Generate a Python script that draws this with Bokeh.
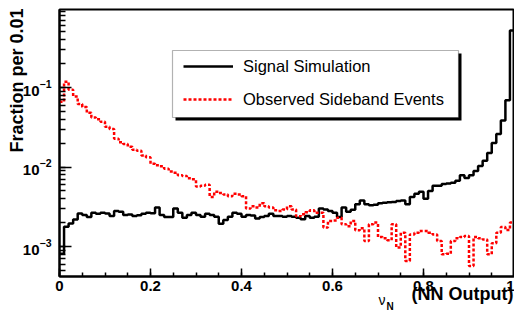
import numpy as np
from bokeh.plotting import figure
from bokeh.models import (FixedTicker, Range1d, Legend, LegendItem, Title,
                          BoxAnnotation)
from bokeh.embed import file_html
from bokeh.resources import INLINE

# ---- data (fraction per 0.01 bin, 100 bins from 0 to 1) ----
signal_simulation = [
    0.00081, 0.00178, 0.00195, 0.00219, 0.00261, 0.00249, 0.00235, 0.00266, 0.00259, 0.00266,
    0.00261, 0.00242, 0.00280, 0.00274, 0.00249, 0.00252, 0.00242, 0.00247, 0.00259, 0.00266,
    0.00262, 0.00310, 0.00250, 0.00235, 0.00235, 0.00300, 0.00266, 0.00230, 0.00249, 0.00266,
    0.00249, 0.00237, 0.00259, 0.00249, 0.00237, 0.00194, 0.00216, 0.00237, 0.00266, 0.00259,
    0.00237, 0.00249, 0.00245, 0.00226, 0.00235, 0.00242, 0.00259, 0.00242, 0.00242, 0.00237,
    0.00242, 0.00237, 0.00230, 0.00220, 0.00242, 0.00230, 0.00237, 0.00300, 0.00293, 0.00280,
    0.00266, 0.00235, 0.00310, 0.00274, 0.00290, 0.00340, 0.00380, 0.00340, 0.00330, 0.00335,
    0.00350, 0.00355, 0.00360, 0.00363, 0.00373, 0.00380, 0.00340, 0.00420, 0.00460, 0.00490,
    0.00400, 0.00500, 0.00580, 0.00580, 0.00610, 0.00620, 0.00635, 0.00670, 0.00790, 0.00730,
    0.00790, 0.00890, 0.01030, 0.01200, 0.01500, 0.02000, 0.02600, 0.03850, 0.06900, 0.52000,
]
observed_sideband = [
    0.06600, 0.11800, 0.09400, 0.07700, 0.06200, 0.05700, 0.04800, 0.04200, 0.04000, 0.03700,
    0.03200, 0.03000, 0.02270, 0.02050, 0.01950, 0.01800, 0.01650, 0.01600, 0.01400, 0.01330,
    0.01100, 0.01050, 0.01020, 0.00950, 0.00880, 0.00850, 0.00790, 0.00770, 0.00720, 0.00700,
    0.00570, 0.00580, 0.00600, 0.00420, 0.00490, 0.00470, 0.00450, 0.00430, 0.00460, 0.00450,
    0.00430, 0.00300, 0.00320, 0.00310, 0.00350, 0.00320, 0.00310, 0.00285, 0.00280, 0.00293,
    0.00320, 0.00293, 0.00240, 0.00254, 0.00270, 0.00285, 0.00266, 0.00266, 0.00173, 0.00210,
    0.00213, 0.00230, 0.00190, 0.00180, 0.00210, 0.00160, 0.00170, 0.00117, 0.00190, 0.00200,
    0.00132, 0.00127, 0.00120, 0.00190, 0.00097, 0.00149, 0.00066, 0.00142, 0.00149, 0.00157,
    0.00157, 0.00149, 0.00142, 0.00117, 0.00080, 0.00081, 0.00117, 0.00127, 0.00132, 0.00136,
    0.00057, 0.00132, 0.00127, 0.00123, 0.00080, 0.00110, 0.00149, 0.00176, 0.00161, 0.00200,
]
x_major_ticks = [0.0, 0.2, 0.4, 0.6, 0.8, 1.0]
y_major_ticks = [1e-3, 1e-2, 1e-1]
series_labels = ["Signal Simulation", "Observed Sideband Events"]
y_title = "Fraction per 0.01"

# ---- figure ----
n_bins = len(signal_simulation)
edges = np.linspace(0.0, 1.0, n_bins + 1)

p = figure(width=514, height=314, output_backend="svg", toolbar_location=None,
           y_axis_type="log", x_range=Range1d(0.0, 1.0), y_range=Range1d(4.2e-4, 0.957),
           min_border_left=59, min_border_right=0, min_border_top=9, min_border_bottom=38)
p.background_fill_color = "white"
p.border_fill_color = "white"
p.xgrid.visible = False
p.ygrid.visible = False
p.outline_line_color = "black"
p.outline_line_width = 2

FONT = "Liberation Sans"

xminor = [round(0.05 * i, 2) for i in range(21)]
p.xaxis.ticker = FixedTicker(ticks=x_major_ticks, minor_ticks=xminor)
yminor = [k * 10.0 ** d for d in range(-4, 1) for k in range(1, 10)]
p.yaxis.ticker = FixedTicker(ticks=y_major_ticks, minor_ticks=yminor)

for ax, maj, mnr, stand in ((p.xaxis, 8, 4, 4), (p.yaxis, 12, 6, 8)):
    ax.axis_line_width = 2
    ax.axis_line_color = "black"
    ax.major_tick_in = maj
    ax.major_tick_out = 0
    ax.minor_tick_in = mnr
    ax.minor_tick_out = 0
    ax.major_tick_line_width = 1.5
    ax.minor_tick_line_width = 1.5
    ax.major_label_text_font = FONT
    ax.major_label_text_font_style = "bold"
    ax.major_label_text_font_size = "15px"
    ax.major_label_text_color = "black"
    ax.major_label_standoff = stand

# y title: axis label pushed to the top end of the axis (ROOT style) with no-break spaces
p.yaxis.axis_label = "\u00a0" * 25 + y_title
p.yaxis.axis_label_text_font = FONT
p.yaxis.axis_label_text_font_style = "bold"
p.yaxis.axis_label_text_font_size = "18px"
p.yaxis.axis_label_text_color = "black"
p.yaxis.axis_label_standoff = -7

src_x = list(edges)
r_sig = p.step(x=src_x, y=signal_simulation + [signal_simulation[-1]], mode="after",
               line_color="black", line_width=2.5)
r_side = p.step(x=src_x, y=observed_sideband + [observed_sideband[-1]], mode="after",
                line_color="#ff0000", line_width=2.5, line_dash="3 2")

# legend box with shadow (screen units relative to frame)
shadow = BoxAnnotation(left=116, right=402, top=223, bottom=156,
                       left_units="screen", right_units="screen",
                       top_units="screen", bottom_units="screen",
                       fill_color="black", fill_alpha=1.0, line_alpha=0)
box = BoxAnnotation(left=113, right=399, top=226, bottom=159,
                    left_units="screen", right_units="screen",
                    top_units="screen", bottom_units="screen",
                    fill_color="white", fill_alpha=1.0, line_color="black", line_width=1.2)
p.add_layout(shadow)
p.add_layout(box)

legend = Legend(items=[LegendItem(label=series_labels[0], renderers=[r_sig]),
                       LegendItem(label=series_labels[1], renderers=[r_side])],
                location=(124, 167), background_fill_alpha=0, border_line_alpha=0,
                padding=0, margin=0, spacing=13, glyph_width=50, glyph_height=20,
                label_height=20, label_standoff=10, label_text_font=FONT,
                label_text_font_size="16.5px", label_text_color="black")
p.add_layout(legend)

# x title pieces (side-panel titles, so they are not clipped to the frame)
p.add_layout(Title(text="(NN Output)", align="right", vertical_align="middle",
                   offset=1, standoff=-23, text_font=FONT, text_font_style="bold",
                   text_font_size="18px", text_color="black"), "below")
p.add_layout(Title(text="ν", align="left", vertical_align="middle",
                   offset=319, standoff=-6, text_font=FONT, text_font_style="normal",
                   text_font_size="14px", text_color="black"), "below")
p.add_layout(Title(text="N", align="left", vertical_align="middle",
                   offset=327, standoff=-12, text_font=FONT, text_font_style="bold",
                   text_font_size="10px", text_color="black"), "below")

open("out.html", "w").write(file_html(p, INLINE))
